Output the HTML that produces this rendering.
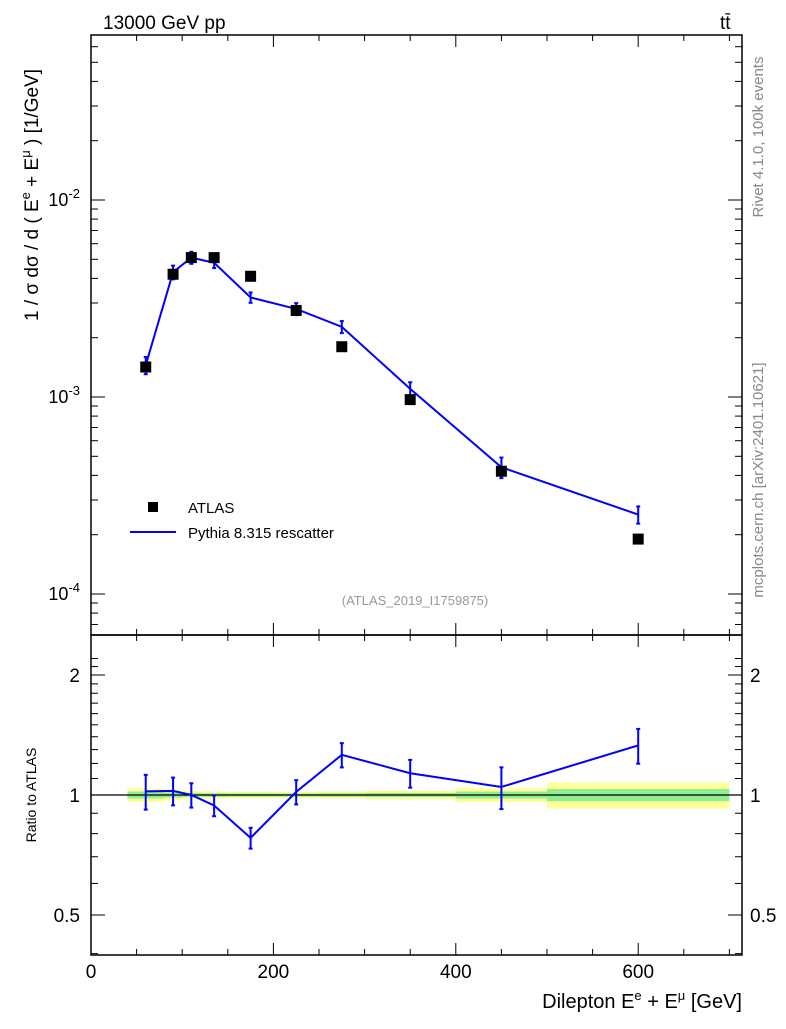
<!DOCTYPE html>
<html><head><meta charset="utf-8"><style>
body{margin:0;background:#fff}
svg{font-family:"Liberation Sans",sans-serif}
</style></head><body>
<svg id="c" width="786" height="1024" xmlns="http://www.w3.org/2000/svg">
<g id="bands"></g>
<g id="axes"></g>
<g id="marks"></g>
<text x="103" y="29" font-size="19">13000 GeV pp</text>
<text x="720" y="29" font-size="19">tt̄</text>
<text transform="translate(763,137) rotate(-90)" text-anchor="middle" font-size="15" fill="#888">Rivet 4.1.0,  100k events</text>
<text transform="translate(763,480) rotate(-90)" text-anchor="middle" font-size="15" fill="#888">mcplots.cern.ch [arXiv:2401.10621]</text>
<text transform="translate(38,195) rotate(-90)" text-anchor="middle" font-size="19">1 / σ  dσ / d ( E<tspan dy="-8" font-size="13">e</tspan><tspan dy="8"> + E</tspan><tspan dy="-8" font-size="13">μ</tspan><tspan dy="8"> ) [1/GeV]</tspan></text>
<text transform="translate(36,795) rotate(-90)" text-anchor="middle" font-size="14">Ratio to ATLAS</text>
<text x="742" y="1008" text-anchor="end" font-size="20">Dilepton E<tspan dy="-8" font-size="13">e</tspan><tspan dy="8"> + E</tspan><tspan dy="-8" font-size="13">μ</tspan><tspan dy="8"> [GeV]</tspan></text>
<text x="415" y="605" text-anchor="middle" font-size="13" fill="#999">(ATLAS_2019_I1759875)</text>
<g>
<rect x="148" y="502" width="10" height="10" fill="#000"/>
<text x="188" y="513" font-size="15">ATLAS</text>
<line x1="130" y1="532" x2="176" y2="532" stroke="#0000ff" stroke-width="2"/>
<text x="188" y="538" font-size="15">Pythia 8.315 rescatter</text>
</g>
</svg>
<script>
const xs=[60,90,110,135,175,225,275,350,450,600];
const dataVals=[1.42e-3,4.2e-3,5.1e-3,5.1e-3,4.1e-3,2.75e-3,1.8e-3,9.7e-4,4.2e-4,1.9e-4];
const mcVals=[1.45e-3,4.3e-3,5.1e-3,4.8e-3,3.2e-3,2.8e-3,2.27e-3,1.1e-3,4.4e-4,2.53e-4];
const mcErr=[0.1,0.08,0.07,0.06,0.06,0.07,0.07,0.08,0.12,0.10];
const binEdges=[40,80,100,120,150,200,250,300,400,500,700];
const bandYellow=[0.04,0.03,0.025,0.02,0.018,0.018,0.02,0.025,0.04,0.075];
const bandGreen=[0.02,0.015,0.012,0.01,0.009,0.009,0.01,0.012,0.02,0.035];
const xTicks=[0,200,400,600];
const yDecades=[-4,-3,-2];
const rTicks=[0.5,1,2];
const NS="http://www.w3.org/2000/svg";
const X=v=>91+v*0.912;
const Y=v=>200-197*(Math.log10(v)+2);
const R=r=>795-120*Math.log2(r);
function mk(p,t,a){const e=document.createElementNS(NS,t);for(const k in a)e.setAttribute(k,a[k]);p.appendChild(e);return e;}
const bands=document.getElementById('bands'),axes=document.getElementById('axes'),marks=document.getElementById('marks');
for(let i=0;i<bandYellow.length;i++){
 const x1=X(binEdges[i]),x2=X(binEdges[i+1]);
 const y=mk(bands,'rect',{x:x1,y:R(1+bandYellow[i]),width:x2-x1,height:R(1-bandYellow[i])-R(1+bandYellow[i]),fill:'#ffff99'});
 
 
 const g=mk(bands,'rect',{x:x1,y:R(1+bandGreen[i]),width:x2-x1,height:R(1-bandGreen[i])-R(1+bandGreen[i]),fill:'#90ee90'});
 
 
}
mk(axes,'rect',{x:91,y:35,width:651,height:600,fill:'none',stroke:'#000','stroke-width':1.5});
mk(axes,'rect',{x:91,y:635,width:651,height:320,fill:'none',stroke:'#000','stroke-width':1.5});
mk(axes,'line',{x1:91,x2:742,y1:R(1),y2:R(1),stroke:'#000','stroke-width':1.2});
for(let v=0;v<=700;v+=50){const maj=v%200==0;const L=maj?12:6;const x=X(v);
 for(const [t,d] of [[635,-1],[35,1],[955,-1],[635,1]]) mk(axes,'line',{x1:x,x2:x,y1:t,y2:t+d*L,stroke:'#000'});}
xTicks.forEach(v=>{const t=mk(axes,'text',{x:X(v),y:978,'text-anchor':'middle','font-size':19});t.textContent=v;
 
 });
for(let d=-5;d<=-1;d++)for(let m=1;m<10;m++){const v=m*Math.pow(10,d);const y=Y(v);if(y<35||y>635)continue;const L=m==1?14:7;
 mk(axes,'line',{x1:91,x2:91+L,y1:y,y2:y,stroke:'#000'});mk(axes,'line',{x1:742,x2:742-L,y1:y,y2:y,stroke:'#000'});}
yDecades.forEach(d=>{const t=mk(axes,'text',{x:80,y:Y(Math.pow(10,d))+6,'text-anchor':'end','font-size':18});
 t.innerHTML='10<tspan dy="-8" font-size="13">'+d+'</tspan>';
 
 });
[0.4,0.5,0.6,0.7,0.8,0.9,1,2].forEach(r=>{const y=R(r);if(y<635||y>955)return;const L=(r==0.5||r==1||r==2)?14:7;
 mk(axes,'line',{x1:91,x2:91+L,y1:y,y2:y,stroke:'#000'});mk(axes,'line',{x1:742,x2:742-L,y1:y,y2:y,stroke:'#000'});});
for(let r=1.1;r<2.3;r+=0.1){const y=R(r);if(y<640)continue;mk(axes,'line',{x1:91,x2:98,y1:y,y2:y,stroke:'#000'});mk(axes,'line',{x1:742,x2:735,y1:y,y2:y,stroke:'#000'});}
rTicks.forEach(r=>{for(const [x,a] of [[80,'end'],[750,'start']]){const t=mk(axes,'text',{x:x,y:R(r)+7,'text-anchor':a,'font-size':19});t.textContent=r;
 
 }});
const pl=mk(marks,'polyline',{points:xs.map((x,i)=>X(x)+','+Y(mcVals[i])).join(' '),fill:'none',stroke:'#0000ff','stroke-width':2});


const ratios=mcVals.map((v,i)=>v/dataVals[i]);
const rl=mk(marks,'polyline',{points:xs.map((x,i)=>X(x)+','+R(ratios[i])).join(' '),fill:'none',stroke:'#0000ff','stroke-width':2});


xs.forEach((x,i)=>{const px=X(x);
 const bars=[[Y(mcVals[i]*(1+mcErr[i])),Y(mcVals[i]*(1-mcErr[i]))],[R(ratios[i]*(1+mcErr[i])),R(ratios[i]*(1-mcErr[i]))]];
 bars.forEach(([a,b])=>{const e=mk(marks,'line',{x1:px,x2:px,y1:a,y2:b,stroke:'#0000ff','stroke-width':2});
  
  
  mk(marks,'line',{x1:px-2,x2:px+2,y1:a,y2:a,stroke:'#0000ff','stroke-width':2});
  mk(marks,'line',{x1:px-2,x2:px+2,y1:b,y2:b,stroke:'#0000ff','stroke-width':2});});
 const s=mk(marks,'rect',{x:px-5.5,y:Y(dataVals[i])-5.5,width:11,height:11,fill:'#000'});
 
 
});
</script>
</body></html>
